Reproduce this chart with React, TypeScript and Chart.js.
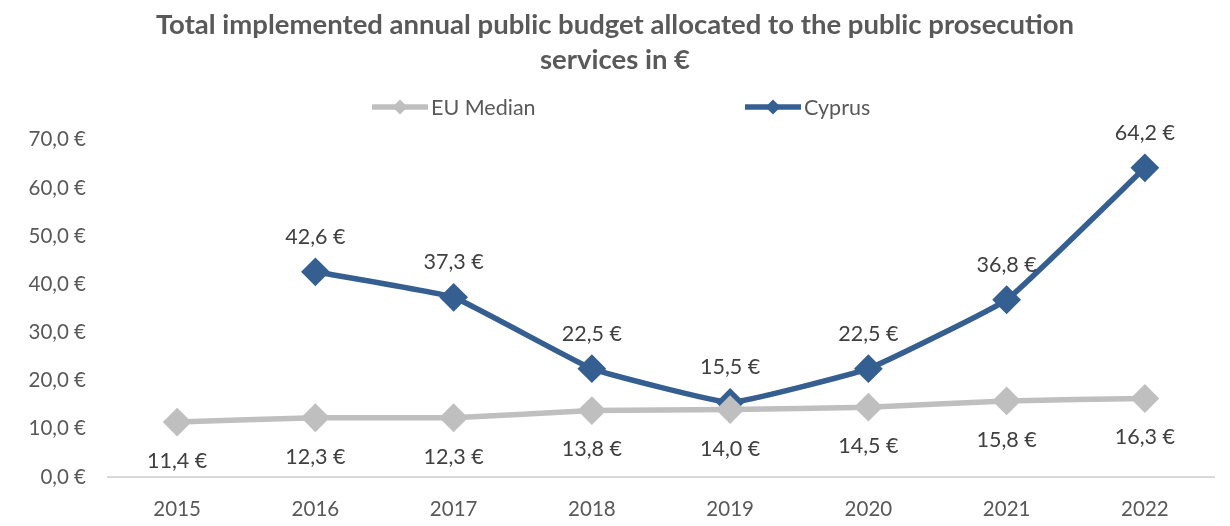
import React, { useEffect, useRef } from "react";
import { Chart, registerables } from "chart.js";

Chart.register(...registerables);

const categories = ["2015", "2016", "2017", "2018", "2019", "2020", "2021", "2022"];
const euMedian = [11.4, 12.3, 12.3, 13.8, 14.0, 14.5, 15.8, 16.3];
const cyprus = [null, 42.6, 37.3, 22.5, 15.5, 22.5, 36.8, 64.2];
const yTicks = [0, 10, 20, 30, 40, 50, 60, 70];
const titleLines = [
  "Total implemented annual public budget allocated to the public prosecution",
  "services in €",
];

const FONT = "Lato, 'Open Sans', sans-serif";
const EU_COLOR = "#bfbfbf";
const CY_COLOR = "#355f91";

const fmt = (v: number) => v.toFixed(1).replace(".", ",") + " €";

const labelsPlugin = {
  id: "valueLabels",
  afterDatasetsDraw(chart: any) {
    const ctx = chart.ctx;
    ctx.save();
    ctx.font = `21.5px ${FONT}`;
    ctx.fillStyle = "#404040";
    ctx.textAlign = "center";
    ctx.textBaseline = "middle";
    chart.data.datasets.forEach((ds: any, i: number) => {
      const meta = chart.getDatasetMeta(i);
      const off = i === 0 ? 39 : -35;
      meta.data.forEach((pt: any, j: number) => {
        const v = ds.data[j];
        if (v == null) return;
        ctx.fillText(fmt(v), pt.x, pt.y + off);
      });
    });
    ctx.restore();
  },
};

const legendPlugin = {
  id: "customLegend",
  afterDraw(chart: any) {
    const ctx = chart.ctx;
    const items = [
      { label: "EU Median", color: EU_COLOR, x: 372 },
      { label: "Cyprus", color: CY_COLOR, x: 745 },
    ];
    const y = 107;
    ctx.save();
    items.forEach((it) => {
      ctx.strokeStyle = it.color;
      ctx.lineWidth = 5.5;
      ctx.beginPath();
      ctx.moveTo(it.x, y);
      ctx.lineTo(it.x + 56, y);
      ctx.stroke();
      ctx.fillStyle = it.color;
      const cx = it.x + 28;
      const r = 7.5;
      ctx.beginPath();
      ctx.moveTo(cx, y - r);
      ctx.lineTo(cx + r, y);
      ctx.lineTo(cx, y + r);
      ctx.lineTo(cx - r, y);
      ctx.closePath();
      ctx.fill();
      ctx.font = `21.5px ${FONT}`;
      ctx.fillStyle = "#595959";
      ctx.textAlign = "left";
      ctx.textBaseline = "middle";
      ctx.fillText(it.label, it.x + 59, y + 1);
    });
    ctx.restore();
  },
};

export default function App() {
  const ref = useRef<HTMLCanvasElement>(null);
  useEffect(() => {
    document.body.style.margin = "0";
    const chart = new Chart(ref.current!, {
      type: "line",
      data: {
        labels: categories,
        datasets: [
          {
            label: "EU Median",
            data: euMedian,
            borderColor: EU_COLOR,
            backgroundColor: EU_COLOR,
            borderWidth: 5.5,
            pointStyle: "rectRot",
            pointRadius: 10.5,
            pointHoverRadius: 10.5,
            tension: 0.1,
          },
          {
            label: "Cyprus",
            data: cyprus,
            borderColor: CY_COLOR,
            backgroundColor: CY_COLOR,
            borderWidth: 5.5,
            pointStyle: "rectRot",
            pointRadius: 10.5,
            pointHoverRadius: 10.5,
            tension: 0.1,
          },
        ],
      },
      options: {
        animation: false,
        responsive: false,
        events: [],
        layout: { padding: { top: 0, left: 0, right: 0, bottom: 0 } },
        plugins: {
          legend: { display: false },
          tooltip: { enabled: false },
          title: {
            display: true,
            text: titleLines,
            color: "#595959",
            font: { family: FONT, size: 27.5, weight: "bold", lineHeight: 1.27 },
            padding: { top: 8, bottom: 62 },
          },
        },
        scales: {
          x: {
            offset: true,
            grid: { display: false },
            border: { display: true, color: "#d9d9d9", width: 2 },
            ticks: {
              color: "#595959",
              font: { family: FONT, size: 20.5 },
              padding: 12,
            },
            afterFit(scale: any) {
              scale.height = 49;
            },
          },
          y: {
            min: 0,
            max: 70,
            grid: { display: false, drawTicks: false },
            border: { display: false },
            afterBuildTicks(scale: any) {
              scale.ticks = yTicks.map((v) => ({ value: v }));
            },
            ticks: {
              color: "#595959",
              font: { family: FONT, size: 20.5 },
              padding: 22,
              callback: (v: any) => fmt(Number(v)),
            },
            afterFit(scale: any) {
              scale.width = 108;
            },
          },
        },
      },
      plugins: [labelsPlugin, legendPlugin],
    });
    return () => chart.destroy();
  }, []);
  return <canvas ref={ref} width={1230} height={526} style={{ display: "block" }} />;
}
